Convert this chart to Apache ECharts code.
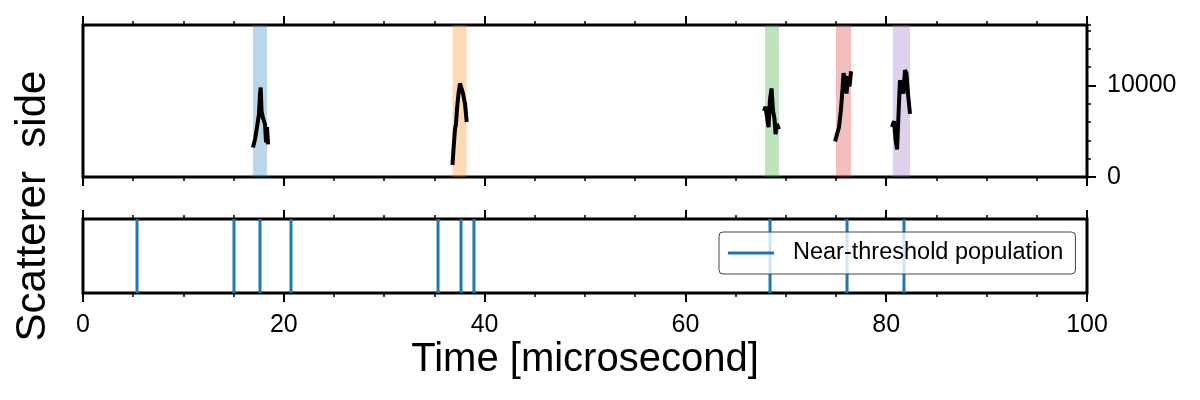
<!DOCTYPE html>
<html>
<head>
<meta charset="utf-8">
<script src="https://cdn.jsdelivr.net/npm/echarts@6/dist/echarts.min.js"></script>
<style>
  html, body { margin: 0; padding: 0; background: #fff; }
  #main { width: 1200px; height: 400px; }
</style>
</head>
<body>
<div id="main"></div>
<script>
// waveform pieces (time in microsecond, signal)
const trace1X = [16.93, 17.13, 17.33, 17.53, 17.63, 17.70, 17.78, 17.93, 18.13, 18.23, 18.33, 18.43];
const trace1Y = [3220, 4110, 5440, 6890, 9110, 9780, 7220, 6440, 5780, 3780, 5440, 3560];
const trace2X = [36.80, 36.90, 37.05, 37.15, 37.25, 37.40, 37.55, 37.70, 37.85, 38.05, 38.22];
const trace2Y = [1330, 3000, 5220, 5780, 7440, 9110, 10220, 9670, 9110, 8000, 6000];
const trace3X = [67.83, 67.98, 68.13, 68.28, 68.43, 68.58, 68.73, 68.88, 68.98, 69.12, 69.32];
const trace3Y = [7220, 7670, 6550, 5440, 8550, 9670, 7220, 6330, 4670, 5780, 5220];
const trace4X = [74.90, 75.10, 75.30, 75.50, 75.65, 75.75, 75.90, 76.05, 76.20, 76.35, 76.50];
const trace4Y = [3890, 4670, 5440, 7440, 9670, 11330, 10780, 9110, 11000, 9890, 11550];
const trace5X = [80.58, 80.78, 80.93, 81.08, 81.23, 81.37, 81.57, 81.72, 81.87, 82.02, 82.17, 82.37];
const trace5Y = [5440, 6110, 4110, 3000, 6890, 10560, 9890, 9110, 11670, 11330, 9110, 6890];

// highlighted windows
const spanStart = [16.93, 36.80, 67.93, 75.00, 80.65];
const spanEnd   = [18.33, 38.20, 69.32, 76.50, 82.37];
const spanColors = ['#1f77b4', '#ff7f0e', '#2ca02c', '#d62728', '#9467bd'];

// near-threshold events
const eventTimes = [5.38, 15.04, 17.63, 20.72, 35.36, 37.65, 38.94, 68.43, 76.10, 81.77];

const timeMin = 0, timeMax = 100;
const sideMax = 16600;

const FONT = 'Liberation Sans';

let chart = echarts.init(document.getElementById('main'));

// join the pieces with gaps
const traces = [[trace1X, trace1Y], [trace2X, trace2Y], [trace3X, trace3Y], [trace4X, trace4Y], [trace5X, trace5Y]];
let lineData = [];
traces.forEach((t, i) => {
  if (i > 0) lineData.push([null, null]);
  t[0].forEach((x, j) => lineData.push([x, t[1][j]]));
});

const spanData = spanStart.map((s, i) => [s, spanEnd[i]]);

const timeAxis = (grid, pos, labels) => ({
  type: 'value',
  gridIndex: grid,
  position: pos,
  min: timeMin,
  max: timeMax,
  interval: 20,
  axisLine: { show: false, onZero: false },
  axisTick: { show: true, length: 9, lineStyle: { color: '#000', width: 2 } },
  minorTick: { show: true, splitNumber: 4, length: 4, lineStyle: { color: '#000', width: 1.5 } },
  splitLine: { show: false },
  axisLabel: { show: labels, fontFamily: FONT, fontSize: 25, color: '#000', margin: 20 }
});

const topRect = { left: 83, right: 113, top: 25, height: 152 };

let option = {
  animation: false,
  grid: [
    Object.assign({ show: true, borderColor: '#000', borderWidth: 3 }, topRect),
    { left: 83, right: 113, top: 219, height: 74, show: true, borderColor: '#000', borderWidth: 3 },
    Object.assign({ show: false }, topRect)
  ],
  xAxis: [
    timeAxis(0, 'bottom', false),
    timeAxis(0, 'top', false),
    Object.assign(timeAxis(1, 'bottom', true), {
      name: 'Time [microsecond]',
      nameLocation: 'middle',
      nameGap: 47,
      nameTextStyle: { fontFamily: FONT, fontSize: 40, color: '#000' }
    }),
    timeAxis(1, 'top', false),
    { type: 'value', gridIndex: 2, min: timeMin, max: timeMax, show: false }
  ],
  yAxis: [
    {
      type: 'value', gridIndex: 0, position: 'right',
      min: 0, max: sideMax, interval: 10000,
      axisLine: { show: false, onZero: false },
      splitLine: { show: false },
      axisTick: { show: true, length: 9, lineStyle: { color: '#000', width: 2 } },
      axisLabel: {
        show: true, showMaxLabel: false, fontFamily: FONT, fontSize: 25, color: '#000', margin: 20,
        formatter: v => String(v)
      }
    },
    {
      type: 'value', gridIndex: 1, min: 0, max: 1, show: false
    },
    {
      type: 'value', gridIndex: 2, position: 'right',
      min: 0, max: sideMax, interval: 2000,
      axisLine: { show: false, onZero: false },
      splitLine: { show: false },
      axisTick: { show: true, length: 4, lineStyle: { color: '#000', width: 1.5 } },
      axisLabel: { show: false }
    }
  ],
  legend: {
    data: [{ name: 'Near-threshold population', icon: 'rect' }],
    left: 719,
    top: 232,
    itemWidth: 46,
    itemHeight: 3,
    padding: [9, 12, 9, 9],
    backgroundColor: 'rgba(255,255,255,0.8)',
    borderColor: '#444',
    borderWidth: 1,
    borderRadius: 4,
    textStyle: { fontFamily: FONT, fontSize: 23.5, color: '#000', padding: [0, 0, 0, 14] }
  },
  graphic: [
    {
      type: 'text',
      x: 33,
      y: 206,
      rotation: Math.PI / 2,
      style: {
        text: 'Scatterer  side',
        font: '42px "Liberation Sans"',
        fill: '#000',
        align: 'center',
        verticalAlign: 'middle'
      }
    }
  ],
  series: [
    {
      name: 'windows',
      type: 'custom',
      xAxisIndex: 0,
      yAxisIndex: 0,
      z: 1,
      silent: true,
      encode: { x: [0, 1] },
      data: spanData,
      renderItem: function (params, api) {
        const p0 = api.coord([api.value(0), sideMax]);
        const p1 = api.coord([api.value(1), 0]);
        return {
          type: 'rect',
          shape: { x: p0[0], y: p0[1], width: p1[0] - p0[0], height: p1[1] - p0[1] },
          style: { fill: spanColors[params.dataIndex], opacity: 0.3 }
        };
      }
    },
    {
      name: 'side',
      type: 'line',
      xAxisIndex: 0,
      yAxisIndex: 0,
      z: 3,
      showSymbol: false,
      connectNulls: false,
      data: lineData,
      lineStyle: { color: '#000', width: 4 },
      itemStyle: { color: '#000' }
    },
    {
      name: 'Near-threshold population',
      type: 'custom',
      xAxisIndex: 2,
      yAxisIndex: 1,
      z: 2,
      encode: { x: 0 },
      itemStyle: { color: '#1f77b4' },
      data: eventTimes.map(t => [t]),
      renderItem: function (params, api) {
        const a = api.coord([api.value(0), 0]);
        const b = api.coord([api.value(0), 1]);
        return {
          type: 'line',
          shape: { x1: a[0], y1: a[1], x2: b[0], y2: b[1] },
          style: { stroke: '#1f77b4', lineWidth: 3 }
        };
      }
    }
  ]
};

chart.setOption(option);
</script>
</body>
</html>
